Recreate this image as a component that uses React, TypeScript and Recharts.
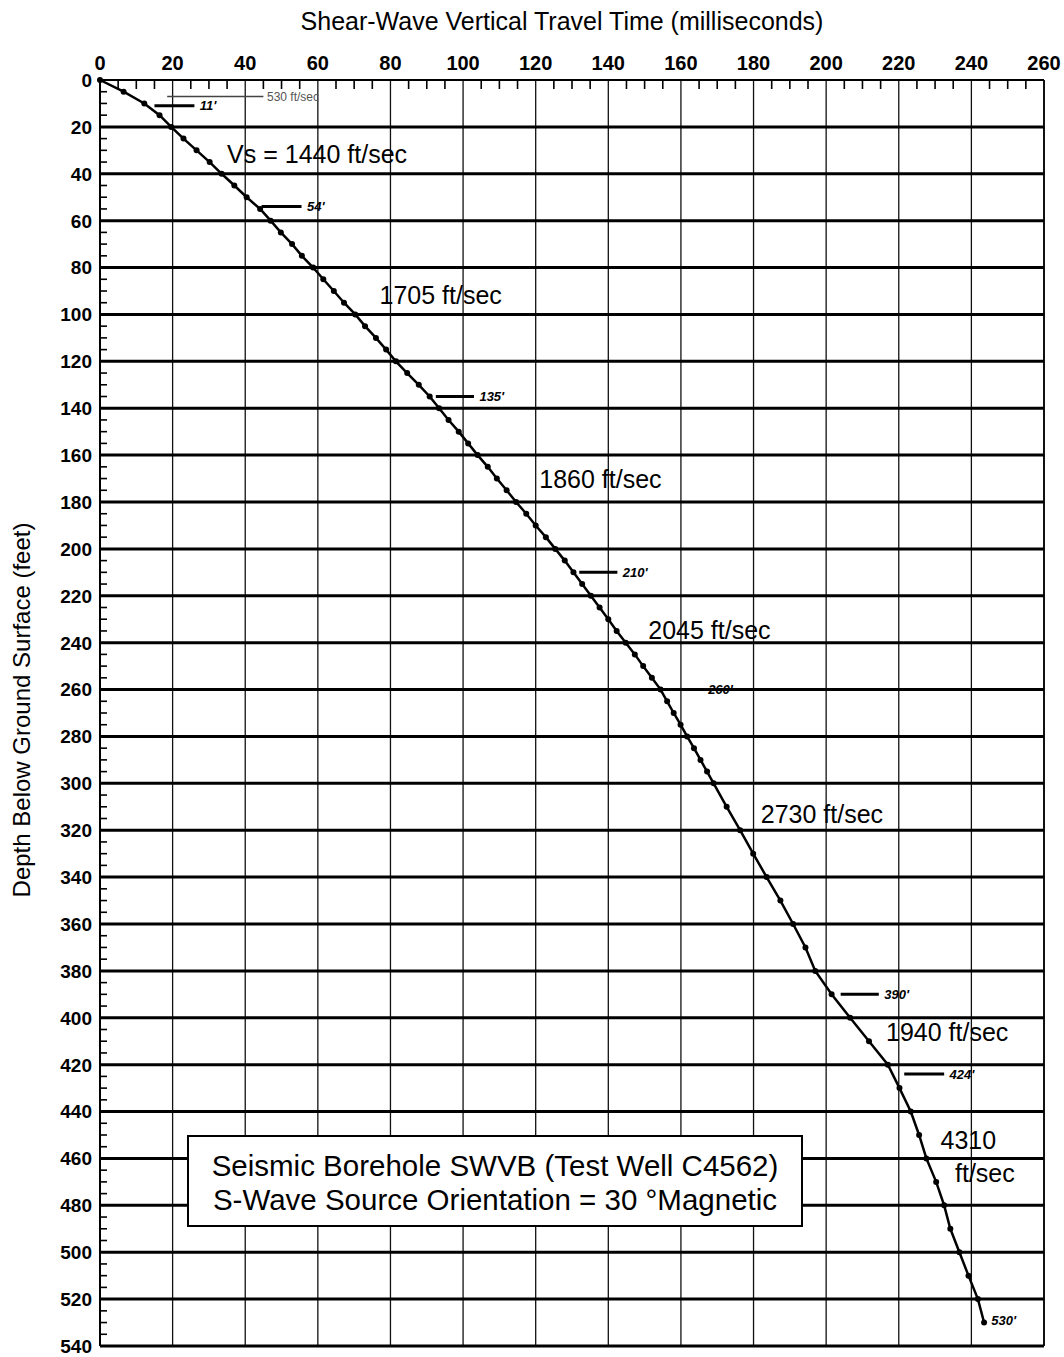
import React from "react"
import { LineChart, Line, XAxis, YAxis, ReferenceLine, ReferenceDot } from "recharts"

// measured depth (ft) and vertical travel time (ms)
const depthFt = [
  0, 5, 10, 15, 20, 25, 30, 35, 40, 45, 50, 55, 60, 65, 70, 75, 80, 85, 90, 95, 100,
  105, 110, 115, 120, 125, 130, 135, 140, 145, 150, 155, 160, 165, 170, 175, 180, 185, 190, 195, 200,
  205, 210, 215, 220, 225, 230, 235, 240, 245, 250, 255, 260, 265, 270, 275, 280, 285, 290, 295, 300,
  310, 320, 330, 340, 350, 360, 370, 380, 390, 400, 410, 420, 430, 440, 450, 460, 470, 480, 490, 500,
  510, 520, 530,
]
const travelMs = [
  0, 6.5, 12.2, 16.4, 19.6, 23.0, 26.6, 30.2, 33.5, 37.0, 40.4, 44.1, 47.0, 49.8, 52.9, 55.6, 58.7, 61.5, 64.4, 67.2, 70.3,
  73.0, 76.0, 78.8, 81.5, 84.6, 87.8, 90.8, 93.4, 96.0, 98.8, 101.4, 104.0, 106.8, 109.3, 112.0, 114.6, 117.4, 120.0, 122.8, 125.4,
  128.0, 130.4, 132.8, 135.2, 137.6, 140.0, 142.3, 144.8, 147.3, 149.6, 152.0, 154.4, 156.2, 158.0, 159.9, 161.7, 163.6, 165.4, 167.2, 169.0,
  172.6, 176.3, 179.9, 183.6, 187.4, 190.9, 194.3, 197.0, 201.5, 206.6, 211.8, 217.0, 220.2, 223.3, 225.6, 227.6, 230.3, 232.5, 234.2, 236.7,
  239.2, 241.8, 243.5,
]

const timeLabels = [0, 20, 40, 60, 80, 100, 120, 140, 160, 180, 200, 220, 240, 260]
const depthLabels = [
  0, 20, 40, 60, 80, 100, 120, 140, 160, 180, 200, 220, 240, 260, 280, 300, 320, 340, 360, 380,
  400, 420, 440, 460, 480, 500, 520, 540,
]
const timeTicks = Array.from({ length: 53 }, (_, i) => i * 5)
const depthTicks = Array.from({ length: 109 }, (_, i) => i * 5)

// layer boundaries: depth, short marker from t0 to t1, label
const breakDepths = [11, 54, 135, 210, 390, 424]
const breakStart = [15, 44.5, 92.5, 132, 204, 221.5]
const breakEnd = [26, 55.5, 103, 142.5, 214.5, 232.5]
const breakLabels = ["11'", "54'", "135'", "210'", "390'", "424'"]

// labels with no marker line
const loneLabels = ["260'", "530'"]
const loneDepths = [260, 529]
const loneTimes = [167.5, 245.5]

const velocityLabels = ["Vs = 1440 ft/sec", "1705 ft/sec", "1860 ft/sec", "2045 ft/sec", "2730 ft/sec", "1940 ft/sec", "4310", "ft/sec"]
const velocityDepths = [31.5, 91.5, 170, 234.5, 313, 406, 452, 466]
const velocityTimes = [35, 77, 121, 151, 182, 216.5, 231.5, 235.5]

const rows = depthFt.map((d, i) => ({ t: travelMs[i], d }))
const FONT = "'Liberation Sans', Arial, Helvetica, sans-serif"

const TimeTick = (props: any) => {
  const { x, y, payload } = props
  const v = payload.value
  if (v % 20 === 0) {
    return (
      <text x={x} y={y - 10} textAnchor="middle" fontSize={20} fontWeight="bold" fontFamily={FONT} fill="#000">
        {v}
      </text>
    )
  }
  return <line x1={x} x2={x} y1={y} y2={y + 9} stroke="#000" strokeWidth={1.6} />
}

const DepthTick = (props: any) => {
  const { x, y, payload } = props
  const v = payload.value
  if (v % 20 === 0) {
    return (
      <text x={x - 8} y={y} dy="0.36em" textAnchor="end" fontSize={19} fontWeight="bold" fontFamily={FONT} fill="#000">
        {v}
      </text>
    )
  }
  return <line x1={x} x2={x + 7} y1={y} y2={y} stroke="#000" strokeWidth={1.6} />
}

const textShape = (label: string, size: number, italic: boolean, bold: boolean, color = "#000") => (p: any) => (
  <text
    x={p.cx}
    y={p.cy}
    dy="0.36em"
    fontSize={size}
    fontStyle={italic ? "italic" : "normal"}
    fontWeight={bold ? "bold" : "normal"}
    fontFamily={FONT}
    fill={color}
    style={{ whiteSpace: "pre" }}
  >
    {label}
  </text>
)

export default function App() {
  return (
    <div style={{ position: "absolute", left: 0, top: 0, width: 1064, height: 1357, background: "#fff" }}>
      <LineChart width={1064} height={1357} data={rows} margin={{ top: 0, right: 20, bottom: 11, left: 0 }}>
        <XAxis
          type="number"
          dataKey="t"
          orientation="top"
          domain={[0, 260]}
          ticks={timeTicks}
          interval={0}
          height={80}
          tickSize={0}
          tickMargin={0}
          tick={<TimeTick />}
          axisLine={{ stroke: "#000", strokeWidth: 2 }}
        />
        <YAxis
          type="number"
          reversed
          domain={[0, 540]}
          ticks={depthTicks}
          interval={0}
          width={100}
          tickSize={0}
          tickMargin={0}
          tick={<DepthTick />}
          axisLine={{ stroke: "#000", strokeWidth: 2 }}
        />
        {timeLabels.map((t) => (
          <ReferenceLine key={"v" + t} x={t} stroke="#111" strokeWidth={t === 260 ? 2 : 1.3} />
        ))}
        {depthLabels.map((d) => (
          <ReferenceLine key={"h" + d} y={d} stroke="#000" strokeWidth={d === 0 ? 2 : 3} />
        ))}
        <ReferenceLine
          segment={[{ x: 18.5, y: 7 }, { x: 45, y: 7 }]}
          stroke="#444"
          strokeWidth={1.5}
        />
        <ReferenceDot x={46} y={7} r={0} shape={textShape("530 ft/sec", 12, false, false, "#555")} />
        {breakDepths.map((d, i) => (
          <ReferenceLine
            key={"b" + d}
            segment={[{ x: breakStart[i], y: d }, { x: breakEnd[i], y: d }]}
            stroke="#000"
            strokeWidth={3}
          />
        ))}
        {breakDepths.map((d, i) => (
          <ReferenceDot key={"bl" + d} x={breakEnd[i] + 1.5} y={d} r={0} shape={textShape(breakLabels[i], 13, true, true)} />
        ))}
        {loneDepths.map((d, i) => (
          <ReferenceDot key={"ll" + d} x={loneTimes[i]} y={d} r={0} shape={textShape(loneLabels[i], 13, true, true)} />
        ))}
        {velocityDepths.map((d, i) => (
          <ReferenceDot key={"vl" + i} x={velocityTimes[i]} y={d} r={0} shape={textShape(velocityLabels[i], 25, false, false)} />
        ))}
        <Line
          type="linear"
          dataKey="d"
          stroke="#000"
          strokeWidth={2.5}
          dot={{ r: 3, fill: "#000", stroke: "#000", strokeWidth: 0 }}
          isAnimationActive={false}
        />
      </LineChart>
      <div
        style={{
          position: "absolute",
          left: 0,
          top: 7,
          width: 1124,
          textAlign: "center",
          fontFamily: FONT,
          fontSize: 25,
          color: "#000",
        }}
      >
        Shear-Wave Vertical Travel Time (milliseconds)
      </div>
      <div
        style={{
          position: "absolute",
          left: 22,
          top: 710,
          transform: "translate(-50%, -50%) rotate(-90deg)",
          whiteSpace: "nowrap",
          fontFamily: FONT,
          fontSize: 24,
          color: "#000",
        }}
      >
        Depth Below Ground Surface (feet)
      </div>
      <div
        style={{
          position: "absolute",
          left: 187,
          top: 1135,
          width: 616,
          height: 92,
          border: "2px solid #000",
          background: "#fff",
          fontFamily: FONT,
          fontSize: 29.5,
          lineHeight: "34px",
          textAlign: "center",
          paddingTop: 12,
          boxSizing: "border-box",
          color: "#000",
        }}
      >
        <div>Seismic Borehole SWVB (Test Well C4562)</div>
        <div>S-Wave Source Orientation = 30 °Magnetic</div>
      </div>
    </div>
  )
}
